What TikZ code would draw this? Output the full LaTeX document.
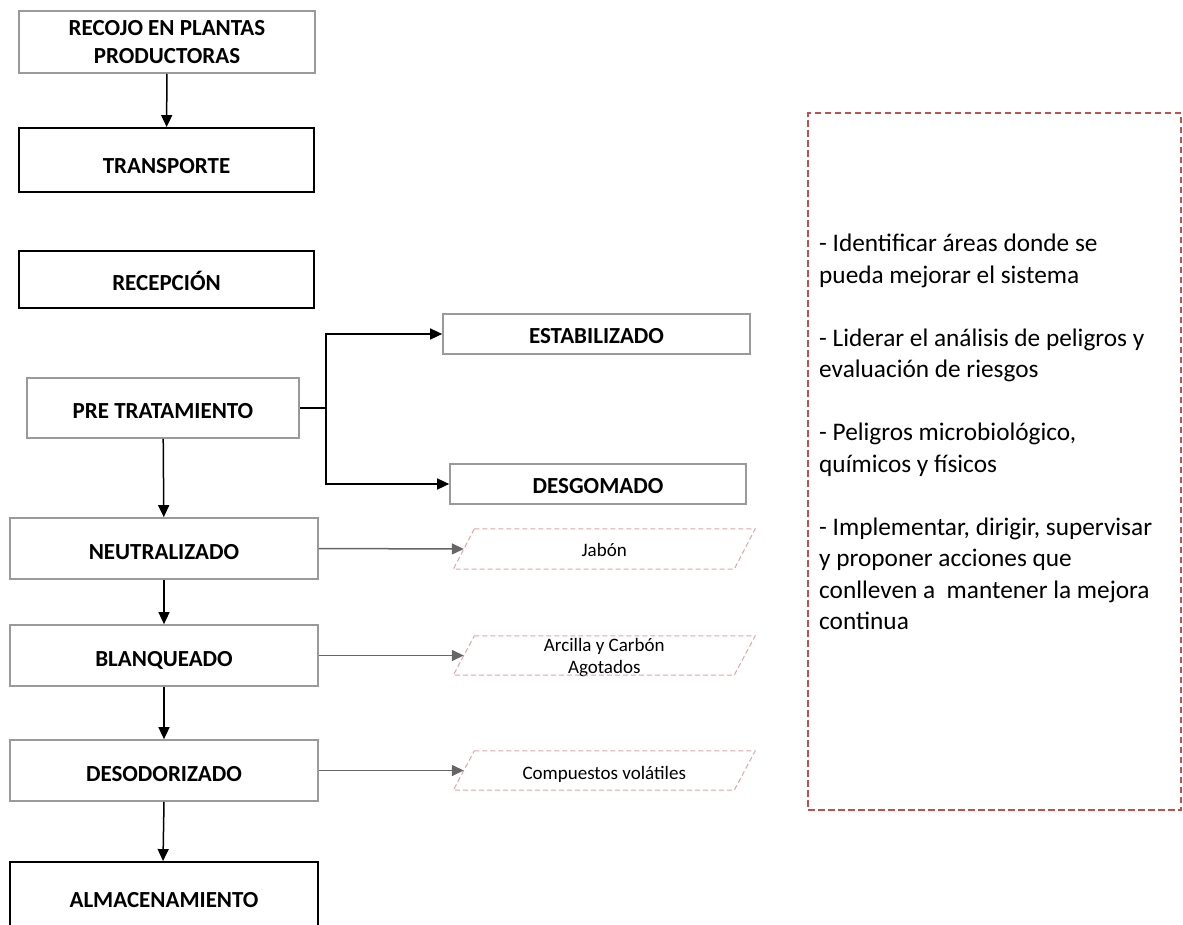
\documentclass[tikz,border=0pt]{standalone}
\usepackage{fontspec}
\setmainfont{Carlito}
\usetikzlibrary{arrows.meta,calc}
\definecolor{boxgray}{HTML}{9A9A9A}
\definecolor{arrgray}{HTML}{666666}
\definecolor{redd}{HTML}{C0504D}
\definecolor{pinkd}{HTML}{E3A3A3}
\tikzset{
  procbox/.style={draw=boxgray, line width=1.7pt, inner sep=0pt, align=center,
    font=\fontsize{23}{28}\selectfont\bfseries},
  onebox/.style={procbox, text height=21pt, text depth=0pt},
  blackbox/.style={onebox, draw=black, line width=1.9pt},
  flow/.style={line width=1.5pt, -{Triangle[length=12pt,width=11pt]}},
  grayflow/.style={draw=arrgray, line width=1.5pt, -{Triangle[length=12pt,width=11pt]}, arrgray},
  outbox/.style={inner sep=0pt, align=center, minimum height=40pt,
    font=\fontsize{19}{22.5}\selectfont},
  para/.style={draw=pinkd, line width=1pt, dash pattern=on 5pt off 3pt},
}
\begin{document}
\begin{tikzpicture}[x=1pt,y=-1pt]
\useasboundingbox (0,0) rectangle (1183,924);
% main process boxes
\node[procbox, minimum width=296pt, minimum height=62pt] (recojo) at (167,42) {RECOJO EN PLANTAS\\PRODUCTORAS};
\node[blackbox, minimum width=295pt, minimum height=64pt, text height=26pt] (transp) at (166.5,160) {TRANSPORTE};
\node[blackbox, minimum width=295pt, minimum height=57pt] (recep) at (166.5,279.5) {RECEPCIÓN};
\node[onebox, minimum width=272pt, minimum height=60pt] (pre) at (163,408) {PRE TRATAMIENTO};
\node[onebox, minimum width=307pt, minimum height=40pt, text height=19pt] (estab) at (596.5,334) {ESTABILIZADO};
\node[onebox, minimum width=296pt, minimum height=40pt, text height=18pt] (desgom) at (598,484) {DESGOMADO};
\node[onebox, minimum width=308pt, minimum height=61pt] (neutral) at (164,548.5) {NEUTRALIZADO};
\node[onebox, minimum width=308pt, minimum height=61pt] (blanq) at (164,655.5) {BLANQUEADO};
\node[onebox, minimum width=308pt, minimum height=61pt] (desod) at (164,770.5) {DESODORIZADO};
\node[blackbox, minimum width=308pt, minimum height=70pt] (almac) at (164,897) {ALMACENAMIENTO};
% outputs (parallelograms)
\node[outbox, minimum width=280.5pt, text height=15pt, text depth=0pt] (jabon) at (604.25,549) {Jabón};
\node[outbox, minimum width=280.5pt, minimum height=39pt] (arcilla) at (604.25,655.5) {\raisebox{-7pt}[0pt][0pt]{\begin{tabular}{@{}c@{}}Arcilla y Carbón\\[-0.5pt]Agotados\end{tabular}}};
\node[outbox, minimum width=280.5pt, minimum height=39pt, text height=17pt, text depth=0pt] (compu) at (604.25,770.5) {Compuestos volátiles};
\foreach \n in {jabon,arcilla,compu}{
  \draw[para] ($(\n.north west)+(10.5,0)$) -- ($(\n.north east)+(10.5,0)$)
     -- ($(\n.south east)+(-10.5,0)$) -- ($(\n.south west)+(-10.5,0)$) -- cycle;
}
% connectors
\draw[flow] (recojo) -- (transp);
\draw[line width=1.5pt] (pre.east) -- ++(26,0) coordinate (br);
\draw[flow] (br) |- (estab.west);
\draw[flow] (br) |- (desgom.west);
\draw[flow] (pre) -- (neutral);
\draw[flow] (neutral) -- (blanq);
\draw[flow] (blanq) -- (desod);
\draw[flow] (desod.south) -- ($(almac.north)+(-1,0)$);
\draw[grayflow] (neutral.east) -- (jabon.west);
\draw[grayflow] (blanq.east) -- (arcilla.west);
\draw[grayflow] (desod.east) -- (compu.west);
% right dashed box
\node[draw=redd, line width=1.8pt, dash pattern=on 6.5pt off 3.5pt, minimum width=373pt, minimum height=697pt, inner sep=0pt] (resp) at (994.5,461.5) {};
\node[anchor=north west, inner sep=0pt, align=left, font=\fontsize{25.3}{31.5}\selectfont] (resptext) at (819,234) {%
- Identificar áreas donde se\\
pueda mejorar el sistema\\[31.5pt]
- Liderar el análisis de peligros y\\
evaluación de riesgos\\[31.5pt]
- Peligros microbiológico,\\
químicos y físicos\\[31.5pt]
- Implementar, dirigir, supervisar\\
y proponer acciones que\\
conlleven a~ mantener la mejora\\
continua};
\end{tikzpicture}
\end{document}
